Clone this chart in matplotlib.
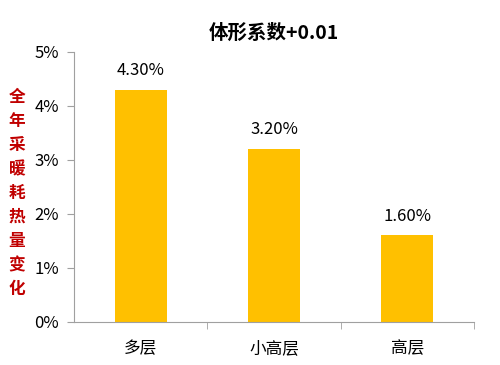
import matplotlib.pyplot as plt
import numpy as np

plt.rcParams['font.family'] = ['Noto Sans CJK SC', 'DejaVu Sans']

categories = ['多层', '小高层', '高层']
values = [4.30, 3.20, 1.60]
yticks = [0, 1, 2, 3, 4, 5]

fig = plt.figure(figsize=(5, 3.65), dpi=100)
ax = fig.add_axes([0.148, 0.118, 0.80, 0.74])

x = np.arange(len(categories))
ax.bar(x, values, width=0.39, color='#FFC000')
for xi, v in zip(x, values):
    ax.text(xi, v + 0.2, f'{v:.2f}%', ha='center', va='bottom', fontsize=12)

ax.set_xlim(-0.5, len(categories) - 0.5)
ax.set_ylim(0, 5)
ax.set_yticks(yticks)
ax.set_yticklabels([f'{t}%' for t in yticks], fontsize=12)
ax.set_xticks(x)
ax.set_xticklabels(categories, fontsize=12)
ax.tick_params(axis='x', length=0, pad=13)
ax.set_xticks(np.arange(0.5, len(categories) - 0.4, 1), minor=True)
ax.tick_params(axis='x', which='minor', length=5, color='#A0A0A0')
ax.tick_params(axis='y', length=5, color='#A0A0A0', pad=6)

for s in ['top', 'right']:
    ax.spines[s].set_visible(False)
for s in ['left', 'bottom']:
    ax.spines[s].set_color('#A0A0A0')

ax.set_title('体形系数+0.01', fontsize=14, fontweight='bold', pad=9)
fig.text(0.034, 0.471, '\n'.join('全年采暖耗热量变化'), color='#C00000',
         fontsize=12, fontweight='bold', ha='center', va='center',
         linespacing=1.43)

fig.savefig('out.png')
